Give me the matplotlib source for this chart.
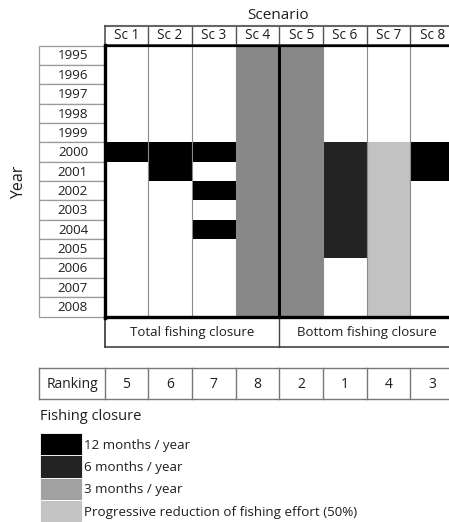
import matplotlib
matplotlib.use("Agg")
import matplotlib.pyplot as plt
from matplotlib.patches import Rectangle

# ---- data ----
scenarios = ['Sc 1', 'Sc 2', 'Sc 3', 'Sc 4', 'Sc 5', 'Sc 6', 'Sc 7', 'Sc 8']
years = list(range(1995, 2009))
# closure periods per scenario: (first year, last year, closure type)
closure_sc = ['Sc 1', 'Sc 2', 'Sc 3', 'Sc 3', 'Sc 3', 'Sc 4', 'Sc 5', 'Sc 6', 'Sc 7', 'Sc 8']
closure_start = [2000, 2000, 2000, 2002, 2004, 1995, 1995, 2000, 2000, 2000]
closure_end = [2000, 2001, 2000, 2002, 2004, 2008, 2008, 2005, 2008, 2001]
closure_type = ['12 months / year', '12 months / year', '12 months / year', '12 months / year',
                '12 months / year', '3 months / year', '3 months / year', '6 months / year',
                'Progressive reduction of fishing effort (50%)', '12 months / year']
groups = ['Total fishing closure', 'Bottom fishing closure']
group_sizes = [4, 4]
ranking = [5, 6, 7, 8, 2, 1, 4, 3]
legend_labels = ['12 months / year', '6 months / year', '3 months / year',
                 'Progressive reduction of fishing effort (50%)']
cell_colors = {'12 months / year': '#000000', '6 months / year': '#232323',
               '3 months / year': '#888888',
               'Progressive reduction of fishing effort (50%)': '#c2c2c2'}
legend_colors = ['#000000', '#232323', '#a2a2a2', '#c4c4c4']

# ---- layout (pixels) ----
W, H = 449, 522
x0, colw = 104.5, 43.7
lab_x0 = 38.5
hdr_top, hdr_bot = 25.5, 44
y0, rowh = 45.5, 19.36
grp_bot = 347
rk_top, rk_bot = 368, 399
FONT = ['Open Sans', 'DejaVu Sans']
plt.rcParams['font.family'] = FONT
TC = '#1e1e1e'

fig = plt.figure(figsize=(W / 100, H / 100), dpi=100)
ax = fig.add_axes([0, 0, 1, 1])
ax.set_xlim(0, W)
ax.set_ylim(H, 0)
ax.axis('off')

ncol = len(scenarios)
nrow = len(years)
x_end = x0 + ncol * colw
y_end = y0 + nrow * rowh

def cx(i):
    return x0 + i * colw

def ry(j):
    return y0 + j * rowh

# cells
for sc, s, e, t in zip(closure_sc, closure_start, closure_end, closure_type):
    i = scenarios.index(sc)
    j0 = years.index(s)
    j1 = years.index(e) + 1
    ax.add_patch(Rectangle((cx(i), ry(j0)), colw, ry(j1) - ry(j0),
                           facecolor=cell_colors[t], edgecolor='none', zorder=1))

# grid vertical lines
for i in range(1, ncol):
    ax.plot([cx(i), cx(i)], [y0, y_end], color='#8a8a8a', lw=0.8, zorder=2)

# header row
ax.text((x0 + x_end) / 2 - 1, 15.5, 'Scenario', ha='center', va='center', fontsize=11, color=TC)
for i, sc in enumerate(scenarios):
    ax.text(cx(i) + colw / 2, (hdr_top + hdr_bot) / 2 + 0.8, sc, ha='center', va='center',
            fontsize=9.8, color=TC)
    if i > 0:
        ax.plot([cx(i), cx(i)], [hdr_top, hdr_bot], color='#555', lw=1.0, zorder=3)
ax.plot([x0, x_end], [hdr_top, hdr_top], color='#666', lw=1.5, zorder=3)
ax.plot([x0, x0], [hdr_top, hdr_bot], color='#555', lw=1.2, zorder=3)
ax.plot([x0, x_end], [hdr_bot + 0.5, hdr_bot + 0.5], color='#333', lw=1.2, zorder=3)

# year labels
for j, yr in enumerate(years):
    ax.add_patch(Rectangle((lab_x0, ry(j)), x0 - lab_x0, rowh, facecolor='white',
                           edgecolor='#9a9a9a', lw=0.9, zorder=2))
    ax.text((lab_x0 + x0) / 2 + 1.5, ry(j) + rowh / 2 + 0.8, str(yr), ha='center', va='center',
            fontsize=9.6, color=TC, zorder=3)
ax.text(19, 182, 'Year', rotation=90, ha='center', va='center', fontsize=11.5, color=TC)

# thick borders
ax.plot([x0 + 0.5, x0 + 0.5], [y0 - 1, y_end + 1], color='black', lw=2.4, zorder=4)
ax.plot([x0, x_end], [y0, y0], color='black', lw=1.6, zorder=4)
ax.plot([x0, x_end], [y_end, y_end], color='black', lw=2.4, zorder=4)
sep = cx(group_sizes[0])
ax.plot([sep, sep], [y0, y_end], color='black', lw=2.2, zorder=4)

# closure groups
ax.plot([x0, x0], [y_end, grp_bot], color='#333', lw=1.2, zorder=3)
ax.plot([x0, x_end], [grp_bot, grp_bot], color='#444', lw=1.2, zorder=3)
start = 0
for g, n in zip(groups, group_sizes):
    ax.text(cx(start) + n * colw / 2, (y_end + grp_bot) / 2 + 1, g, ha='center', va='center',
            fontsize=9.5, color=TC)
    start += n
    if start < ncol:
        ax.plot([cx(start), cx(start)], [y_end, grp_bot], color='#444', lw=1.0, zorder=3)

# ranking row
ax.plot([lab_x0, x_end], [rk_top, rk_top], color='#777', lw=1.0)
ax.plot([lab_x0, x_end], [rk_bot, rk_bot], color='#777', lw=1.0)
ax.plot([lab_x0, lab_x0], [rk_top, rk_bot], color='#777', lw=1.0)
ax.text((lab_x0 + x0) / 2 + 0.5, (rk_top + rk_bot) / 2 + 0.8, 'Ranking', ha='center', va='center',
        fontsize=10, color=TC)
for i, r in enumerate(ranking):
    ax.plot([cx(i), cx(i)], [rk_top, rk_bot], color='#777', lw=1.0)
    ax.text(cx(i) + colw / 2, (rk_top + rk_bot) / 2 + 0.8, str(r), ha='center', va='center',
            fontsize=10, color=TC)

# legend
ax.text(40, 416, 'Fishing closure', ha='left', va='center', fontsize=10.5, color=TC)
lg_top, lg_h = 433, 22.3
for k, (lab, col) in enumerate(zip(legend_labels, legend_colors)):
    yk = lg_top + k * lg_h
    ax.add_patch(Rectangle((40, yk), 42, lg_h, facecolor=col, edgecolor='white', lw=0.6))
    ax.text(83.5, yk + lg_h / 2 + 1, lab, ha='left', va='center', fontsize=9.6, color=TC)

fig.savefig('out.png', dpi=100)
